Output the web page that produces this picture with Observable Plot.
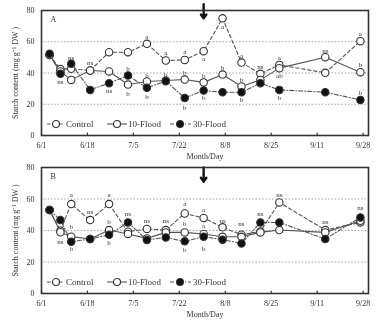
<!DOCTYPE html>
<html>
<head>
<meta charset="utf-8">
<script src="https://cdn.jsdelivr.net/npm/d3@7"></script>
<script src="https://cdn.jsdelivr.net/npm/@observablehq/plot@0.6"></script>
<style>
  body { margin: 0; background: #fff; }
  #wrap { position: relative; width: 380px; height: 322px; font-family: "Liberation Serif", serif; }
  #wrap svg { will-change: transform; -webkit-font-smoothing: antialiased; }
  .legend { position: absolute; left: 0; width: 380px; height: 12px; pointer-events: none; }
</style>
</head>
<body>
<div id="wrap"></div>
<script>
// ---- data ----
const sampleDates = ["06-04","06-08","06-12","06-19","06-26","07-03","07-10","07-17","07-24","07-31","08-07","08-14","08-21","08-28","09-14","09-27"];
const seriesNames = ["Control", "10-Flood", "30-Flood"];

const controlA = [51.5, 42.5, 42.7, 41.6, 53.3, 53.3, 58.7, 48.0, 48.4, 54.0, 75.0, 46.7, 39.5, 45.2, 40.1, 60.4];
const flood10A = [51.5, 41.0, 35.6, 41.6, 41.0, 32.6, 34.6, 35.2, 35.8, 34.0, 39.0, 31.4, 35.6, 43.1, 50.1, 40.5];
const flood30A = [52.3, 39.5, 45.9, 29.2, 33.5, 38.4, 30.5, 34.8, 24.0, 28.8, 27.7, 27.7, 33.5, 29.2, 27.7, 22.8];

const controlB = [53.0, 39.9, 56.8, 46.6, 56.8, 39.2, 41.0, 40.3, 50.8, 48.0, 42.0, 37.3, 39.4, 57.8, 40.3, 45.1];
const flood10B = [53.0, 38.9, 36.1, 34.6, 40.3, 37.8, 35.0, 38.8, 38.8, 37.8, 36.0, 36.0, 38.8, 40.3, 38.8, 46.2];
const flood30B = [53.0, 46.6, 32.9, 34.6, 37.3, 45.1, 34.0, 35.6, 33.1, 36.1, 34.2, 31.8, 45.1, 45.1, 34.6, 48.3];

const labelDatesA  = ["06-08","06-12","06-19","06-26","07-03","07-03","07-10","07-10","07-10","07-17","07-17","07-24","07-24","07-24","07-31","07-31","07-31","08-07","08-07","08-14","08-14","08-14","08-21","08-28","08-28","08-28","09-14","09-27","09-27","09-27"];
const labelValuesA = [34.5, 50.0, 46.3, 28.8, 42.5, 26.5, 63.5, 38.5, 25.0, 52.7, 39.0, 53.3, 40.0, 17.5, 49.0, 38.5, 24.0, 69.5, 43.5, 51.2, 36.0, 22.8, 43.7, 50.0, 38.4, 24.0, 54.5, 65.0, 45.5, 27.5];
const labelTextsA  = ["ns","ns","ns","ns","b","b","a","b","b","a","b","a","b","b","a","b","b","a","b","a","b","b","ns","a","ab","b","ns","a","b","b"];

const labelDatesB  = ["06-08","06-12","06-12","06-12","06-19","06-26","06-26","06-26","07-03","07-10","07-17","07-24","07-24","07-24","07-31","07-31","07-31","08-07","08-14","08-21","08-28","09-14","09-27"];
const labelValuesB = [32.9, 62.5, 42.4, 28.3, 52.0, 62.5, 45.5, 32.0, 50.4, 46.2, 46.2, 56.8, 44.5, 27.5, 53.0, 43.0, 28.3, 46.5, 44.0, 50.4, 63.0, 45.7, 54.6];
const labelTextsB  = ["ns","a","b","b","ns","a","b","b","ns","ns","ns","a","b","b","a","a","b","ns","ns","ns","ns","ns","ns"];

const xTickLabels = ["06-01","06-18","07-05","07-22","08-08","08-25","09-11","09-28"];
const yTicks = [0, 20, 40, 60, 80];
const gridValues = [20, 40, 60];
const arrowDate = "07-31";
const arrowA = [84, 75];
const arrowB = [80, 71];
const panelNames = ["A", "B"];
const yTitle = "Starch content (mg g\u207B\u00B9 DW )";
const xTitle = "Month/Day";

// ---- helpers ----
const dt = s => new Date(`2019-${s}T00:00:00Z`);
const fmt = d3.utcFormat("%-m/%-d");

function rows(control, f10, f30) {
  const out = [];
  [control, f10, f30].forEach((vals, k) => {
    vals.forEach((v, i) => out.push({date: dt(sampleDates[i]), value: v, series: seriesNames[k]}));
  });
  return out;
}
function labelRows(dates, values, texts) {
  return dates.map((d, i) => ({date: dt(d), value: values[i], text: texts[i]}));
}

const dashes = {"Control": "3.5,2.5", "10-Flood": "none", "30-Flood": "4,2,1,2"};
const fills = {"Control": "#fff", "10-Flood": "#fff", "30-Flood": "#111"};

function panel(data, labels, name, arrowVals, opts) {
  const marks = [
    Plot.ruleY(gridValues, {stroke: "#9a9a9a", strokeDasharray: "1.5,1.8", strokeWidth: 0.9}),
    Plot.axisY({ticks: yTicks, tickSize: 0, tickPadding: 7, fontSize: 8, label: yTitle, labelAnchor: "center", labelArrow: "none", labelOffset: 29}),
    Plot.axisX({ticks: xTickLabels.map(dt), tickFormat: fmt, tickSize: 0, tickPadding: 7, fontSize: 8, label: xTitle, labelAnchor: "center", labelArrow: "none", labelOffset: 23}),
    Plot.ruleX(xTickLabels.map(dt), {x: d => d, y1: 0, y2: 1.5, stroke: "#333", strokeWidth: 1.2}),
  ];
  for (const s of seriesNames) {
    marks.push(Plot.line(data.filter(d => d.series === s), {x: "date", y: "value", stroke: "#555", strokeWidth: 1.1, strokeDasharray: dashes[s]}));
  }
  for (const s of seriesNames) {
    marks.push(Plot.dot(data.filter(d => d.series === s), {x: "date", y: "value", r: 3.7, fill: fills[s], stroke: "#333", strokeWidth: 1.1}));
  }
  marks.push(
    Plot.text(labels, {x: "date", y: "value", text: "text", fontSize: 7, fill: "#333"}),
    Plot.arrow([dt(arrowDate)], {x: d => d, y1: arrowVals[0], y2: arrowVals[1], stroke: "#111", strokeWidth: 2.4, headLength: 7, headAngle: 70}),
    Plot.text([name], {frameAnchor: "top-left", dx: 9, dy: 6, fontSize: 8, fill: "#333"}),
    Plot.frame({stroke: "#333", strokeWidth: 1.6})
  );
  return Plot.plot({
    width: 380,
    height: opts.height,
    marginLeft: 41,
    marginRight: 12,
    marginTop: opts.marginTop,
    marginBottom: opts.marginBottom,
    style: {fontFamily: "Liberation Serif, serif", color: "#333", background: "transparent", overflow: "visible"},
    x: {type: "utc", domain: [dt("06-01"), dt("09-30")]},
    y: {domain: [0, 80]},
    clip: false,
    marks
  });
}

const wrap = document.getElementById("wrap");
const pA = panel(rows(controlA, flood10A, flood30A), labelRows(labelDatesA, labelValuesA, labelTextsA), panelNames[0], arrowA, {height: 160, marginTop: 10, marginBottom: 25});
const pB = panel(rows(controlB, flood10B, flood30B), labelRows(labelDatesB, labelValuesB, labelTextsB), panelNames[1], arrowB, {height: 162, marginTop: 7, marginBottom: 29});
pA.style.display = "block"; pB.style.display = "block";
wrap.appendChild(pA);
wrap.appendChild(pB);

// legends (inside each panel's frame)
function legend(top) {
  const ns = "http://www.w3.org/2000/svg";
  const svg = document.createElementNS(ns, "svg");
  svg.setAttribute("class", "legend");
  svg.setAttribute("width", 380); svg.setAttribute("height", 12);
  svg.style.top = (top - 6) + "px";
  const items = [
    {x1: 47, x2: 65, cx: 56, tx: 66},
    {x1: 107, x2: 127, cx: 117, tx: 128},
    {x1: 170, x2: 191, cx: 180, tx: 193}
  ];
  seriesNames.forEach((s, i) => {
    const it = items[i];
    const l = document.createElementNS(ns, "line");
    l.setAttribute("x1", it.x1); l.setAttribute("x2", it.x2); l.setAttribute("y1", 6); l.setAttribute("y2", 6);
    l.setAttribute("stroke", "#555"); l.setAttribute("stroke-width", 1.1);
    if (dashes[s] !== "none") l.setAttribute("stroke-dasharray", dashes[s]);
    svg.appendChild(l);
    const c = document.createElementNS(ns, "circle");
    c.setAttribute("cx", it.cx); c.setAttribute("cy", 6); c.setAttribute("r", 3.5);
    c.setAttribute("fill", fills[s]); c.setAttribute("stroke", "#333"); c.setAttribute("stroke-width", 1.1);
    svg.appendChild(c);
    const t = document.createElementNS(ns, "text");
    t.setAttribute("x", it.tx); t.setAttribute("y", 9);
    t.setAttribute("font-size", 9); t.setAttribute("fill", "#333");
    t.setAttribute("font-family", "Liberation Serif, serif");
    t.textContent = s;
    svg.appendChild(t);
  });
  wrap.appendChild(svg);
}
legend(124);
legend(160 + 122);
</script>
</body>
</html>
